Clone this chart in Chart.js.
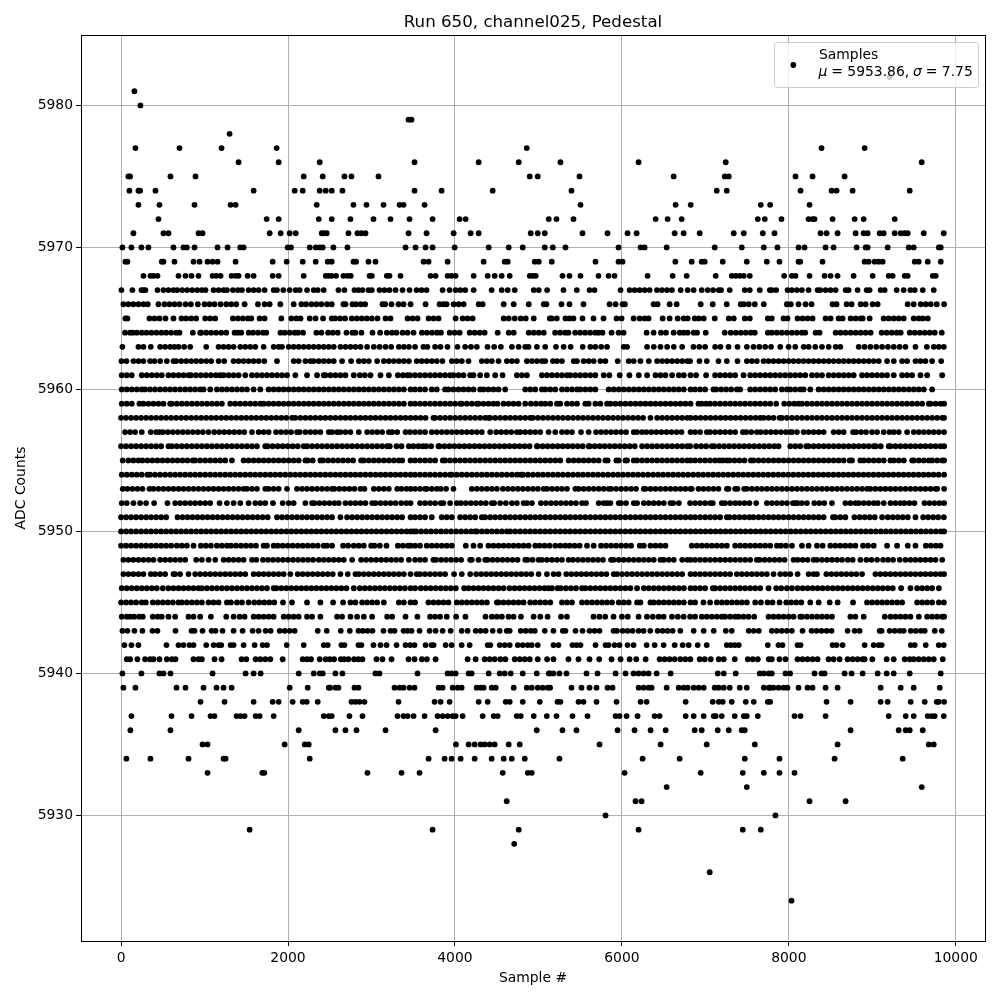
<!DOCTYPE html>
<html>
<head>
<meta charset="utf-8">
<title>Run 650, channel025, Pedestal</title>
<script src="https://cdn.jsdelivr.net/npm/chart.js@4"></script>
<style>
  html, body { margin: 0; padding: 0; background: #fff; }
  #wrap { width: 1000px; height: 1000px; }
</style>
</head>
<body>
<div id="wrap"><canvas id="chart" width="1000" height="1000"></canvas></div>
<script>
const xTicks = [0, 2000, 4000, 6000, 8000, 10000];
const yTicks = [5930, 5940, 5950, 5960, 5970, 5980];

// sample numbers, one list per ADC level
const s5982 = [9208];
const s5981 = [160];
const s5980 = [232];
const s5979 = [3444, 3480];
const s5978 = [1300];
const s5977 = [172, 700, 1204, 1864, 4860, 8392, 8908];
const s5976 = [1408, 1888, 2380, 3516, 4284, 4764, 5264, 6200, 7244, 9592];
const s5975 = [88, 108, 592, 892, 2188, 2416, 2676, 2760, 3084, 4896, 4992, 5492, 6620, 7232, 7280, 8080, 8284, 8668];
const s5974 = [100, 208, 228, 412, 1588, 2080, 2176, 2380, 2452, 2524, 2652, 3516, 3840, 4452, 5396, 7136, 7256, 8140, 8512, 8572, 8764, 9448];
const s5973 = [208, 460, 880, 1312, 1372, 2344, 2784, 2940, 3144, 3336, 3384, 3636, 5504, 6644, 6824, 7664, 7776, 8248];
const s5972 = [448, 1744, 1888, 2368, 2524, 2748, 3024, 3228, 3456, 3732, 4056, 4128, 5124, 5216, 5420, 6404, 6548, 6716, 7628, 7712, 7912, 8236, 8284, 8308, 8524, 8788, 8896, 9268];
const s5971 = [148, 508, 568, 928, 976, 1780, 1912, 2020, 2092, 2404, 2428, 2464, 2724, 2832, 2880, 2928, 3444, 3660, 3984, 4188, 4284, 4908, 4992, 5076, 5528, 5828, 6068, 6176, 6632, 6740, 6932, 7340, 7460, 7688, 7828, 8380, 8452, 8584, 8800, 8896, 8944, 9088, 9136, 9268, 9340, 9388, 9424, 9616, 9856];
const s5970 = [16, 124, 244, 328, 628, 748, 788, 880, 1156, 1276, 1428, 1468, 1996, 2036, 2260, 2332, 2380, 2416, 2544, 2712, 3408, 3528, 3648, 3732, 3996, 4404, 4644, 4812, 5076, 5172, 5324, 5960, 6224, 6272, 6536, 7112, 7436, 7700, 7864, 8116, 8188, 8440, 8536, 8812, 8920, 8944, 9184, 9436, 9496, 9796, 9820];
const s5969 = [52, 76, 488, 508, 640, 868, 940, 1036, 1096, 1156, 1372, 1816, 1984, 2176, 2332, 2476, 2524, 2784, 2816, 2964, 3048, 3624, 3684, 3912, 4344, 4596, 4632, 4956, 5004, 5160, 5684, 5960, 6008, 6640, 6836, 6956, 6992, 7208, 7496, 7736, 7888, 8116, 8136, 8404, 8908, 8956, 9028, 9076, 9124, 9508, 9556, 9664, 9820];
const s5968 = [268, 352, 388, 436, 688, 772, 844, 928, 1096, 1140, 1192, 1324, 1372, 1408, 1516, 1588, 1816, 1888, 2188, 2452, 2488, 2524, 2576, 2664, 2712, 2752, 2976, 3004, 3184, 3216, 3348, 3708, 3768, 3912, 3960, 4008, 4224, 4392, 4476, 4560, 4656, 4896, 4932, 4968, 5288, 5372, 5504, 5720, 5840, 5912, 6308, 6608, 6776, 7124, 7316, 7364, 7412, 7460, 7532, 7944, 8036, 8080, 8248, 8428, 8500, 8584, 8776, 9004, 9196, 9244, 9388, 9424, 9724, 9760];
const s5967 = [4, 136, 244, 268, 292, 436, 508, 568, 628, 672, 732, 792, 852, 912, 968, 1012, 1108, 1168, 1228, 1268, 1340, 1400, 1448, 1528, 1588, 1648, 1720, 1828, 1868, 1944, 2020, 2092, 2140, 2228, 2308, 2356, 2428, 2604, 2676, 2796, 2844, 2892, 2964, 3004, 3096, 3156, 3216, 3288, 3372, 3456, 3540, 3600, 3660, 3852, 3936, 4008, 4064, 4124, 4224, 4440, 4560, 4632, 4716, 4944, 5004, 5104, 5300, 5460, 5612, 5672, 5984, 6092, 6152, 6212, 6272, 6332, 6420, 6480, 6540, 6600, 6704, 6788, 6860, 6956, 7028, 7092, 7160, 7188, 7292, 7472, 7532, 7652, 7772, 7796, 7848, 7984, 8036, 8096, 8156, 8236, 8344, 8376, 8440, 8500, 8560, 8680, 8716, 8824, 8932, 8968, 9100, 9148, 9292, 9376, 9456, 9508, 9604, 9736];
const s5966 = [28, 88, 148, 208, 268, 320, 448, 520, 580, 640, 700, 772, 836, 920, 1000, 1060, 1120, 1192, 1260, 1320, 1380, 1480, 1640, 1720, 1780, 1908, 2068, 2160, 2216, 2280, 2340, 2400, 2468, 2524, 2664, 2688, 2772, 2816, 2872, 2924, 3132, 3164, 3240, 3324, 3384, 3468, 3648, 3816, 3864, 3900, 3984, 4044, 4104, 4284, 4332, 4584, 4704, 4884, 5064, 5096, 5276, 5372, 5540, 5852, 5924, 6008, 6036, 6380, 6428, 6572, 6656, 6944, 7088, 7256, 7424, 7460, 7520, 7592, 7700, 7976, 8024, 8116, 8200, 8272, 8524, 8572, 8692, 8752, 8860, 8920, 9004, 9064, 9424, 9496, 9580, 9640, 9700, 9772, 9860];
const s5965 = [52, 76, 340, 400, 460, 532, 628, 724, 780, 840, 900, 1008, 1068, 1128, 1340, 1400, 1460, 1520, 1560, 1660, 1720, 1920, 2040, 2100, 2150, 2260, 2330, 2420, 2524, 2564, 2624, 2684, 2764, 2824, 2884, 2944, 3004, 3072, 3168, 3228, 3432, 3492, 3552, 3684, 3744, 3804, 4008, 4092, 4152, 4212, 4584, 4644, 4716, 4788, 4848, 4944, 5136, 5160, 5220, 5324, 5372, 5420, 5528, 5660, 5780, 5936, 5996, 6140, 6212, 6272, 6320, 6488, 6572, 6668, 6740, 6788, 6872, 6920, 6980, 7112, 7280, 7340, 7472, 7532, 7748, 7796, 7936, 7984, 8104, 8164, 8224, 8284, 8440, 8500, 8596, 8644, 8740, 8800, 8860, 8884, 8968, 9136, 9196, 9256, 9316, 9376, 9496, 9556, 9604, 9664];
const s5964 = [48, 108, 140, 188, 248, 304, 364, 424, 484, 540, 600, 660, 700, 860, 948, 960, 1020, 1080, 1140, 1200, 1260, 1360, 1400, 1440, 1528, 1580, 1640, 1700, 1740, 1910, 1960, 2020, 2080, 2120, 2180, 2340, 2400, 2480, 2536, 2596, 2700, 2772, 2808, 2880, 3012, 3104, 3184, 3244, 3300, 3372, 3432, 3504, 3604, 3664, 3724, 3784, 3832, 3936, 3996, 4056, 4176, 4236, 4296, 4356, 4512, 4644, 4704, 4884, 4944, 5004, 5064, 5200, 5260, 5320, 5360, 5440, 5500, 5560, 5620, 5680, 5720, 5768, 5876, 5960, 6020, 6296, 6380, 6468, 6528, 6620, 6692, 6740, 6788, 6860, 6900, 7004, 7232, 7304, 7364, 7424, 7484, 7544, 7592, 7748, 7796, 7856, 7916, 7976, 8036, 8096, 8156, 8196, 8320, 8368, 8560, 8620, 8680, 8740, 8800, 8860, 8920, 8980, 9112, 9172, 9232, 9292, 9340, 9448, 9508, 9568, 9628, 9688, 9748, 9832];
const s5963 = [16, 208, 268, 356, 468, 528, 588, 640, 688, 756, 828, 1020, 1168, 1228, 1288, 1348, 1428, 1488, 1548, 1608, 1708, 1828, 1888, 1928, 2008, 2068, 2128, 2188, 2248, 2308, 2368, 2428, 2488, 2548, 2628, 2688, 2748, 2808, 2868, 2948, 3028, 3098, 3168, 3236, 3328, 3388, 3448, 3522, 3622, 3670, 3762, 3826, 3910, 4030, 4122, 4192, 4262, 4390, 4470, 4550, 4682, 4762, 4842, 4882, 4982, 5082, 5210, 5302, 5386, 5530, 5622, 5682, 5752, 5822, 6022, 6062, 6302, 6382, 6462, 6542, 6622, 6722, 6857, 6927, 6997, 7117, 7181, 7277, 7385, 7497, 7577, 7647, 7717, 7787, 7897, 7997, 8077, 8177, 8237, 8317, 8397, 8477, 8561, 8617, 8837, 8907, 8977, 9047, 9117, 9187, 9257, 9327, 9397, 9517, 9653, 9737, 9797, 9857];
const s5962 = [4, 64, 148, 208, 268, 348, 400, 468, 548, 628, 660, 720, 780, 840, 900, 960, 1020, 1080, 1168, 1236, 1348, 1408, 1468, 1528, 1588, 1648, 1716, 1868, 2068, 2128, 2208, 2268, 2308, 2368, 2428, 2488, 2548, 2648, 2756, 2848, 2908, 2968, 3068, 3148, 3208, 3268, 3328, 3388, 3448, 3542, 3602, 3662, 3722, 3782, 3850, 3962, 4022, 4082, 4162, 4322, 4382, 4442, 4522, 4622, 4682, 4742, 4862, 4922, 4982, 5042, 5082, 5174, 5222, 5282, 5422, 5462, 5542, 5602, 5662, 5742, 5802, 5950, 6082, 6142, 6222, 6322, 6422, 6482, 6542, 6602, 6662, 6722, 6782, 6817, 6929, 7017, 7157, 7257, 7385, 7497, 7557, 7617, 7697, 7757, 7817, 7877, 7937, 7997, 8057, 8117, 8177, 8237, 8297, 8357, 8417, 8477, 8537, 8597, 8657, 8717, 8777, 8837, 8897, 8957, 9017, 9077, 9177, 9257, 9357, 9417, 9517, 9577, 9637, 9717, 9825];
const s5961 = [8, 68, 128, 248, 308, 368, 428, 488, 568, 628, 688, 748, 808, 836, 896, 956, 1016, 1076, 1136, 1188, 1228, 1288, 1348, 1408, 1488, 1568, 1628, 1688, 1748, 1808, 1868, 1928, 1988, 2088, 2228, 2348, 2428, 2448, 2508, 2568, 2628, 2688, 2788, 2860, 2920, 2988, 3108, 3208, 3316, 3376, 3428, 3462, 3522, 3582, 3642, 3702, 3762, 3822, 3882, 3942, 3982, 4042, 4102, 4182, 4222, 4302, 4382, 4482, 4570, 4742, 4802, 4862, 5042, 5102, 5162, 5222, 5282, 5342, 5382, 5442, 5502, 5562, 5622, 5682, 5782, 5850, 5974, 6090, 6202, 6302, 6402, 6462, 6522, 6602, 6682, 6742, 6822, 6889, 7009, 7117, 7177, 7237, 7297, 7357, 7457, 7537, 7597, 7657, 7717, 7777, 7837, 7897, 7957, 8017, 8077, 8137, 8197, 8277, 8337, 8397, 8477, 8537, 8597, 8657, 8717, 8777, 8877, 8937, 8997, 9057, 9117, 9177, 9257, 9357, 9417, 9477, 9577, 9657, 9837];
const s5960 = [8, 68, 128, 188, 248, 288, 348, 408, 468, 528, 588, 648, 708, 768, 828, 888, 948, 988, 1068, 1148, 1208, 1268, 1328, 1388, 1448, 1508, 1588, 1668, 1768, 1828, 1888, 1948, 2008, 2068, 2128, 2188, 2248, 2308, 2368, 2428, 2488, 2548, 2608, 2668, 2728, 2788, 2848, 2908, 2968, 3028, 3088, 3148, 3208, 3268, 3328, 3388, 3468, 3522, 3582, 3642, 3722, 3782, 3882, 3922, 3982, 4042, 4102, 4162, 4222, 4302, 4342, 4402, 4462, 4522, 4602, 4842, 4902, 4962, 5042, 5082, 5142, 5202, 5282, 5342, 5402, 5462, 5502, 5562, 5622, 5682, 5842, 5902, 5962, 6022, 6082, 6142, 6202, 6262, 6322, 6382, 6442, 6502, 6562, 6622, 6682, 6742, 6822, 6877, 6937, 6997, 7097, 7129, 7189, 7249, 7309, 7377, 7417, 7537, 7597, 7657, 7717, 7777, 7837, 7917, 7977, 8017, 8077, 8137, 8177, 8257, 8357, 8417, 8477, 8537, 8597, 8657, 8717, 8777, 8837, 8897, 8957, 9017, 9077, 9137, 9197, 9257, 9317, 9377, 9437, 9497, 9557, 9617, 9717];
const s5959 = [8, 68, 128, 220, 268, 328, 388, 448, 508, 588, 608, 668, 728, 788, 848, 908, 968, 1028, 1088, 1148, 1208, 1308, 1368, 1428, 1488, 1548, 1608, 1668, 1708, 1768, 1828, 1888, 1948, 2008, 2068, 2128, 2188, 2248, 2308, 2368, 2428, 2488, 2548, 2608, 2668, 2728, 2788, 2848, 2908, 2968, 3028, 3088, 3148, 3208, 3268, 3328, 3388, 3468, 3522, 3582, 3642, 3702, 3762, 3822, 3882, 3942, 4002, 4062, 4082, 4142, 4202, 4262, 4282, 4342, 4402, 4462, 4510, 4582, 4642, 4702, 4762, 4842, 4910, 4970, 5030, 5082, 5142, 5222, 5262, 5342, 5402, 5462, 5562, 5602, 5682, 5742, 5822, 5862, 5922, 5982, 6042, 6102, 6162, 6222, 6282, 6342, 6402, 6462, 6522, 6582, 6642, 6702, 6762, 6822, 6917, 6957, 7009, 7057, 7117, 7177, 7237, 7297, 7357, 7417, 7477, 7537, 7597, 7657, 7717, 7777, 7849, 7945, 8005, 8065, 8117, 8157, 8217, 8277, 8337, 8397, 8457, 8517, 8577, 8637, 8697, 8757, 8817, 8877, 8937, 8997, 9057, 9117, 9177, 9237, 9297, 9357, 9417, 9477, 9537, 9597, 9677, 9697, 9757, 9817, 9860];
const s5958 = [0, 60, 120, 180, 240, 300, 360, 420, 480, 540, 600, 660, 720, 780, 840, 900, 960, 1020, 1080, 1140, 1200, 1260, 1320, 1380, 1440, 1500, 1560, 1620, 1680, 1740, 1800, 1860, 1920, 1980, 2048, 2088, 2148, 2208, 2268, 2328, 2388, 2448, 2508, 2568, 2628, 2688, 2748, 2808, 2868, 2928, 2988, 3048, 3108, 3168, 3228, 3288, 3348, 3408, 3468, 3528, 3588, 3648, 3742, 3762, 3822, 3882, 3942, 4002, 4062, 4122, 4182, 4242, 4302, 4362, 4402, 4422, 4482, 4542, 4602, 4662, 4722, 4782, 4842, 4902, 4934, 4994, 5054, 5114, 5174, 5234, 5294, 5354, 5414, 5474, 5534, 5594, 5654, 5714, 5774, 5834, 5894, 5954, 6014, 6074, 6134, 6194, 6254, 6342, 6422, 6482, 6542, 6602, 6662, 6722, 6782, 6822, 6882, 6942, 7002, 7062, 7122, 7182, 7242, 7302, 7362, 7422, 7482, 7542, 7602, 7657, 7697, 7757, 7817, 7889, 7917, 7977, 8037, 8097, 8157, 8217, 8277, 8337, 8397, 8457, 8517, 8577, 8637, 8697, 8757, 8817, 8877, 8937, 8997, 9057, 9117, 9177, 9237, 9297, 9357, 9417, 9477, 9537, 9597, 9657, 9717, 9777, 9837, 9860];
const s5957 = [48, 108, 168, 248, 356, 420, 460, 500, 560, 620, 680, 740, 800, 860, 920, 980, 1048, 1116, 1176, 1236, 1296, 1356, 1416, 1476, 1568, 1648, 1708, 1768, 1856, 1916, 1976, 2036, 2108, 2140, 2208, 2268, 2328, 2388, 2488, 2528, 2588, 2628, 2688, 2748, 2848, 2948, 3008, 3068, 3128, 3208, 3248, 3308, 3408, 3462, 3522, 3582, 3642, 3722, 3782, 3842, 3902, 3962, 4022, 4082, 4142, 4202, 4262, 4322, 4422, 4494, 4554, 4614, 4674, 4742, 4782, 4842, 4902, 4962, 5022, 5122, 5202, 5282, 5342, 5402, 5510, 5602, 5690, 5750, 5810, 5870, 5930, 5990, 6050, 6142, 6182, 6242, 6294, 6354, 6414, 6474, 6534, 6594, 6654, 6714, 6822, 6877, 6937, 7017, 7057, 7117, 7177, 7237, 7297, 7357, 7449, 7489, 7549, 7617, 7665, 7725, 7785, 7845, 7905, 7965, 8017, 8037, 8097, 8177, 8237, 8297, 8357, 8417, 8537, 8597, 8657, 8769, 8805, 8865, 8925, 8997, 9057, 9137, 9205, 9257, 9317, 9417, 9497, 9557, 9617, 9677, 9737, 9797, 9860];
const s5956 = [0, 60, 120, 180, 240, 300, 360, 420, 480, 568, 608, 668, 728, 788, 848, 908, 968, 1028, 1088, 1148, 1208, 1268, 1328, 1388, 1448, 1508, 1568, 1628, 1728, 1756, 1816, 1876, 1936, 1996, 2056, 2116, 2188, 2228, 2288, 2348, 2408, 2468, 2528, 2588, 2648, 2708, 2768, 2828, 2888, 2948, 3008, 3068, 3128, 3188, 3220, 3300, 3360, 3448, 3502, 3562, 3614, 3654, 3714, 3802, 3814, 3874, 3934, 3994, 4054, 4114, 4174, 4234, 4294, 4354, 4414, 4474, 4534, 4594, 4654, 4714, 4774, 4834, 4894, 4982, 4990, 5050, 5110, 5170, 5230, 5290, 5350, 5410, 5470, 5530, 5602, 5614, 5674, 5734, 5794, 5854, 5914, 5974, 6034, 6094, 6154, 6242, 6302, 6362, 6422, 6482, 6542, 6602, 6662, 6722, 6782, 6817, 6889, 6949, 7009, 7077, 7105, 7165, 7225, 7285, 7345, 7405, 7465, 7525, 7585, 7645, 7705, 7765, 7825, 7877, 8017, 8077, 8137, 8209, 8237, 8297, 8357, 8417, 8477, 8537, 8597, 8657, 8717, 8777, 8837, 8897, 8957, 9017, 9041, 9101, 9197, 9217, 9277, 9337, 9397, 9457, 9517, 9577, 9637, 9697, 9757, 9817, 9860];
const s5955 = [20, 88, 148, 208, 256, 316, 376, 436, 496, 556, 616, 676, 736, 796, 860, 888, 948, 1008, 1068, 1128, 1188, 1248, 1328, 1468, 1528, 1588, 1648, 1708, 1768, 1828, 1888, 1948, 2008, 2068, 2128, 2208, 2236, 2296, 2388, 2420, 2480, 2540, 2600, 2660, 2720, 2780, 2876, 2908, 2968, 3028, 3088, 3148, 3208, 3268, 3328, 3368, 3468, 3522, 3582, 3642, 3702, 3762, 3854, 3882, 3942, 4002, 4062, 4122, 4182, 4242, 4302, 4362, 4422, 4482, 4542, 4602, 4662, 4722, 4782, 4842, 4902, 4962, 5022, 5082, 5142, 5202, 5262, 5362, 5422, 5482, 5542, 5602, 5662, 5722, 5802, 5830, 5934, 5962, 6042, 6062, 6142, 6182, 6242, 6302, 6362, 6422, 6482, 6542, 6602, 6662, 6722, 6782, 6822, 6877, 6937, 6997, 7057, 7117, 7169, 7209, 7257, 7289, 7349, 7409, 7469, 7545, 7577, 7637, 7697, 7757, 7817, 7877, 7937, 7997, 8057, 8117, 8177, 8237, 8297, 8357, 8417, 8477, 8537, 8597, 8657, 8729, 8757, 8857, 8897, 8957, 9017, 9077, 9137, 9217, 9257, 9317, 9377, 9477, 9497, 9557, 9617, 9677, 9717, 9777, 9837, 9860];
const s5954 = [8, 68, 128, 188, 248, 316, 348, 408, 468, 528, 588, 648, 708, 768, 828, 888, 948, 1008, 1068, 1128, 1188, 1248, 1308, 1368, 1428, 1488, 1548, 1608, 1668, 1728, 1788, 1848, 1908, 1968, 2028, 2088, 2148, 2208, 2268, 2328, 2388, 2448, 2508, 2568, 2628, 2688, 2748, 2808, 2868, 2928, 2988, 3048, 3108, 3168, 3228, 3288, 3348, 3408, 3468, 3522, 3582, 3642, 3702, 3762, 3822, 3882, 3942, 3962, 4022, 4082, 4142, 4202, 4262, 4322, 4382, 4442, 4502, 4562, 4622, 4682, 4742, 4790, 4814, 4874, 4934, 4994, 5054, 5114, 5174, 5234, 5294, 5354, 5414, 5474, 5534, 5594, 5654, 5714, 5774, 5834, 5894, 5954, 6014, 6074, 6134, 6194, 6254, 6314, 6374, 6434, 6494, 6554, 6614, 6674, 6734, 6794, 6854, 6914, 6974, 7034, 7094, 7154, 7214, 7274, 7334, 7394, 7454, 7514, 7574, 7634, 7694, 7754, 7814, 7874, 7934, 7994, 8054, 8114, 8174, 8234, 8294, 8354, 8414, 8474, 8534, 8594, 8654, 8714, 8774, 8834, 8894, 8954, 9014, 9074, 9134, 9194, 9254, 9314, 9374, 9434, 9494, 9554, 9614, 9674, 9734, 9794, 9860];
const s5953 = [20, 76, 136, 196, 256, 340, 388, 448, 508, 568, 628, 688, 748, 808, 868, 928, 988, 1048, 1108, 1168, 1228, 1288, 1348, 1408, 1468, 1508, 1568, 1628, 1728, 1768, 1828, 1888, 1988, 2108, 2168, 2228, 2288, 2348, 2408, 2468, 2528, 2556, 2616, 2676, 2736, 2796, 2868, 2916, 3028, 3088, 3148, 3208, 3308, 3360, 3420, 3468, 3522, 3582, 3642, 3662, 3722, 3782, 3830, 3894, 3982, 4202, 4262, 4322, 4382, 4442, 4502, 4574, 4634, 4694, 4754, 4814, 4874, 4934, 4994, 5062, 5102, 5162, 5222, 5282, 5342, 5442, 5482, 5542, 5602, 5662, 5722, 5782, 5842, 5870, 5930, 5990, 6050, 6110, 6170, 6262, 6282, 6342, 6402, 6462, 6522, 6582, 6642, 6702, 6762, 6822, 6837, 6917, 6977, 7037, 7097, 7157, 7257, 7277, 7357, 7385, 7465, 7497, 7557, 7617, 7677, 7737, 7797, 7857, 7917, 7977, 8037, 8097, 8157, 8217, 8277, 8337, 8397, 8457, 8517, 8577, 8637, 8697, 8757, 8817, 8877, 8937, 8977, 9037, 9097, 9157, 9217, 9277, 9337, 9397, 9457, 9517, 9577, 9637, 9697, 9757, 9777, 9860];
const s5952 = [8, 68, 148, 228, 300, 396, 556, 648, 708, 768, 828, 888, 948, 1008, 1068, 1180, 1268, 1348, 1428, 1528, 1608, 1668, 1728, 1820, 1936, 2008, 2068, 2208, 2288, 2316, 2376, 2436, 2496, 2556, 2608, 2688, 2748, 2808, 2868, 2928, 3008, 3048, 3108, 3168, 3228, 3288, 3356, 3416, 3468, 3582, 3642, 3702, 3762, 3830, 3862, 3942, 4022, 4070, 4130, 4190, 4250, 4310, 4370, 4442, 4470, 4542, 4610, 4682, 4742, 4822, 4862, 4922, 5030, 5090, 5150, 5210, 5270, 5330, 5390, 5450, 5522, 5570, 5722, 5782, 5822, 5862, 5962, 5990, 6050, 6142, 6182, 6262, 6322, 6382, 6442, 6502, 6582, 6614, 6682, 6817, 6877, 6937, 6997, 7057, 7089, 7197, 7237, 7297, 7357, 7409, 7469, 7529, 7609, 7737, 7797, 7857, 7917, 7977, 8049, 8077, 8105, 8157, 8217, 8305, 8365, 8425, 8517, 8677, 8737, 8797, 8837, 8897, 8957, 9017, 9065, 9137, 9217, 9277, 9337, 9385, 9445, 9505, 9625, 9685, 9745, 9805, 9860];
const s5951 = [0, 60, 120, 180, 240, 300, 360, 420, 480, 540, 676, 736, 796, 856, 916, 976, 1036, 1096, 1156, 1216, 1276, 1336, 1396, 1456, 1516, 1576, 1636, 1696, 1756, 1868, 1928, 1988, 2048, 2108, 2168, 2228, 2288, 2348, 2408, 2468, 2528, 2628, 2708, 2768, 2828, 2888, 2948, 3008, 3068, 3128, 3188, 3248, 3308, 3368, 3468, 3522, 3582, 3642, 3722, 3842, 3902, 3962, 4062, 4122, 4182, 4242, 4322, 4362, 4422, 4482, 4542, 4602, 4662, 4722, 4782, 4842, 4902, 4962, 5022, 5082, 5142, 5202, 5262, 5322, 5382, 5442, 5502, 5562, 5622, 5682, 5742, 5802, 5862, 5922, 5982, 6042, 6102, 6162, 6222, 6282, 6342, 6402, 6462, 6522, 6582, 6642, 6702, 6762, 6822, 6877, 6937, 6997, 7057, 7117, 7177, 7257, 7289, 7349, 7409, 7469, 7529, 7577, 7637, 7697, 7757, 7817, 7877, 7937, 7997, 8057, 8117, 8177, 8237, 8297, 8357, 8417, 8529, 8557, 8617, 8677, 8785, 8849, 8909, 8969, 9029, 9117, 9185, 9245, 9305, 9365, 9425, 9517, 9609, 9669, 9729, 9789, 9857];
const s5950 = [0, 60, 120, 180, 240, 300, 360, 420, 480, 540, 600, 660, 720, 780, 840, 900, 960, 1020, 1080, 1140, 1200, 1260, 1320, 1380, 1440, 1500, 1560, 1620, 1680, 1740, 1800, 1860, 1920, 1980, 2040, 2100, 2160, 2220, 2280, 2340, 2400, 2460, 2520, 2580, 2640, 2700, 2760, 2820, 2880, 2940, 3000, 3060, 3120, 3180, 3240, 3300, 3360, 3420, 3468, 3502, 3534, 3594, 3654, 3714, 3774, 3834, 3894, 3954, 4014, 4074, 4134, 4194, 4242, 4262, 4322, 4382, 4442, 4502, 4562, 4622, 4662, 4722, 4782, 4842, 4902, 4962, 5022, 5082, 5142, 5202, 5262, 5322, 5382, 5442, 5502, 5562, 5622, 5682, 5742, 5802, 5862, 5922, 5982, 6042, 6102, 6162, 6222, 6282, 6342, 6402, 6462, 6522, 6582, 6642, 6702, 6762, 6822, 6882, 6942, 7002, 7062, 7122, 7182, 7242, 7302, 7362, 7422, 7482, 7542, 7602, 7662, 7722, 7782, 7842, 7902, 7962, 8022, 8082, 8142, 8202, 8262, 8322, 8382, 8442, 8502, 8562, 8622, 8682, 8742, 8802, 8862, 8922, 8982, 9042, 9102, 9162, 9222, 9282, 9342, 9402, 9462, 9522, 9582, 9642, 9702, 9762, 9822, 9860];
const s5949 = [0, 60, 120, 180, 240, 300, 360, 420, 480, 540, 600, 668, 728, 788, 868, 956, 1016, 1076, 1148, 1208, 1268, 1316, 1376, 1436, 1496, 1556, 1616, 1708, 1748, 1828, 1876, 1936, 1996, 2056, 2116, 2176, 2236, 2296, 2356, 2428, 2468, 2528, 2660, 2720, 2788, 2848, 2908, 2996, 3036, 3100, 3180, 3316, 3376, 3436, 3468, 3522, 3582, 3662, 3722, 3782, 3842, 3902, 3962, 4130, 4222, 4302, 4402, 4462, 4522, 4582, 4642, 4702, 4762, 4822, 4882, 4962, 5014, 5074, 5134, 5202, 5262, 5322, 5374, 5434, 5494, 5582, 5662, 5750, 5810, 5870, 5930, 5990, 6050, 6110, 6214, 6262, 6342, 6402, 6462, 6522, 6837, 6897, 6957, 7017, 7077, 7137, 7197, 7257, 7357, 7417, 7477, 7537, 7597, 7657, 7717, 7777, 7857, 7905, 7965, 8037, 8157, 8237, 8337, 8405, 8497, 8557, 8617, 8677, 8737, 8797, 8889, 8949, 9017, 9177, 9297, 9425, 9517, 9641, 9701, 9761, 9817];
const s5948 = [28, 88, 148, 208, 268, 328, 388, 468, 528, 588, 648, 708, 768, 900, 968, 1048, 1128, 1228, 1288, 1348, 1408, 1468, 1568, 1620, 1700, 1760, 1820, 1880, 1940, 2000, 2060, 2120, 2180, 2240, 2300, 2368, 2428, 2488, 2548, 2608, 2668, 2768, 2876, 2936, 2996, 3056, 3116, 3176, 3236, 3296, 3356, 3448, 3522, 3582, 3642, 3742, 3774, 3834, 3894, 3954, 4014, 4074, 4182, 4202, 4282, 4362, 4390, 4450, 4510, 4570, 4630, 4690, 4750, 4842, 4870, 4930, 5002, 5042, 5102, 5162, 5222, 5282, 5362, 5414, 5474, 5534, 5594, 5654, 5714, 5774, 5870, 5902, 5962, 6022, 6082, 6142, 6202, 6262, 6322, 6382, 6462, 6502, 6562, 6622, 6722, 6782, 6822, 6877, 6937, 6997, 7057, 7117, 7177, 7237, 7297, 7357, 7417, 7477, 7537, 7617, 7649, 7709, 7769, 7829, 7889, 7949, 8057, 8105, 8165, 8225, 8297, 8337, 8397, 8457, 8517, 8577, 8637, 8705, 8765, 8857, 8929, 8989, 9057, 9129, 9189, 9249, 9329, 9397, 9457, 9517, 9577, 9637, 9697, 9757, 9837];
const s5947 = [28, 88, 148, 208, 268, 356, 408, 468, 528, 628, 648, 708, 808, 888, 948, 1008, 1068, 1128, 1188, 1248, 1308, 1368, 1428, 1488, 1588, 1648, 1708, 1768, 1828, 1888, 1948, 2028, 2116, 2176, 2236, 2296, 2356, 2416, 2476, 2536, 2628, 2716, 2808, 2848, 2908, 2968, 3028, 3088, 3148, 3208, 3268, 3328, 3388, 3468, 3542, 3582, 3642, 3702, 3762, 3822, 3882, 3990, 4082, 4182, 4254, 4314, 4374, 4434, 4494, 4554, 4614, 4674, 4734, 4794, 4854, 4914, 5002, 5102, 5182, 5242, 5334, 5394, 5454, 5514, 5574, 5634, 5694, 5754, 5814, 5902, 5942, 6002, 6062, 6122, 6182, 6242, 6302, 6362, 6422, 6482, 6542, 6602, 6662, 6722, 6822, 6877, 6937, 6997, 7057, 7117, 7177, 7237, 7297, 7377, 7437, 7497, 7557, 7617, 7677, 7737, 7817, 7897, 7957, 8017, 8105, 8237, 8297, 8337, 8449, 8509, 8569, 8629, 8689, 8749, 8809, 8877, 9037, 9097, 9157, 9217, 9277, 9337, 9397, 9457, 9517, 9577, 9637, 9697, 9757, 9817, 9860];
const s5946 = [8, 68, 128, 188, 248, 308, 368, 428, 500, 568, 628, 688, 748, 808, 868, 928, 968, 1028, 1088, 1148, 1208, 1268, 1328, 1388, 1448, 1508, 1568, 1628, 1688, 1748, 1828, 1860, 1920, 1980, 2040, 2100, 2160, 2220, 2280, 2340, 2400, 2460, 2520, 2580, 2640, 2700, 2788, 2860, 2920, 2980, 3040, 3100, 3160, 3220, 3280, 3340, 3400, 3468, 3522, 3590, 3650, 3710, 3770, 3830, 3890, 3950, 4010, 4110, 4162, 4222, 4282, 4342, 4402, 4462, 4522, 4582, 4654, 4714, 4774, 4834, 4894, 4954, 5014, 5074, 5122, 5162, 5230, 5270, 5330, 5390, 5450, 5522, 5562, 5622, 5682, 5742, 5802, 5862, 5922, 5982, 6042, 6102, 6182, 6262, 6322, 6382, 6442, 6502, 6562, 6622, 6682, 6742, 6822, 6877, 6937, 6997, 7089, 7117, 7177, 7237, 7297, 7357, 7417, 7477, 7537, 7597, 7657, 7757, 7849, 7909, 7977, 8037, 8105, 8165, 8225, 8285, 8345, 8405, 8465, 8525, 8585, 8645, 8705, 8765, 8825, 8885, 8945, 9005, 9065, 9125, 9185, 9245, 9345, 9457, 9537, 9597, 9657, 9717, 9797];
const s5945 = [0, 60, 120, 180, 248, 296, 380, 440, 500, 560, 620, 688, 728, 788, 848, 908, 968, 1048, 1108, 1168, 1268, 1316, 1388, 1448, 1528, 1596, 1656, 1716, 1776, 1836, 1940, 2048, 2228, 2388, 2540, 2660, 2748, 2808, 2888, 2948, 3008, 3068, 3148, 3328, 3388, 3468, 3522, 3682, 3742, 3802, 3862, 3922, 4022, 4082, 4142, 4202, 4262, 4322, 4382, 4502, 4522, 4582, 4642, 4702, 4762, 4822, 4902, 4962, 5022, 5082, 5142, 5282, 5342, 5402, 5522, 5582, 5642, 5702, 5762, 5822, 5882, 5962, 6022, 6082, 6182, 6222, 6342, 6382, 6442, 6502, 6562, 6622, 6682, 6742, 6822, 6877, 6977, 7057, 7137, 7197, 7257, 7317, 7377, 7437, 7497, 7597, 7665, 7745, 7805, 7889, 7969, 8029, 8089, 8149, 8257, 8357, 8489, 8585, 8769, 8937, 8997, 9057, 9117, 9177, 9237, 9297, 9357, 9537, 9597, 9657, 9717, 9797, 9857];
const s5944 = [8, 68, 108, 156, 216, 260, 380, 440, 488, 568, 648, 808, 868, 948, 1076, 1260, 1348, 1420, 1480, 1588, 1648, 1708, 1768, 1828, 1948, 2008, 2068, 2128, 2228, 2288, 2388, 2588, 2648, 2748, 2828, 2908, 3008, 3188, 3248, 3408, 3550, 3702, 3762, 3822, 3902, 4014, 4126, 4366, 4442, 4502, 4562, 4642, 4702, 4790, 4942, 5022, 5110, 5270, 5342, 5660, 5730, 5800, 5900, 6000, 6070, 6200, 6300, 6370, 6440, 6500, 6600, 6670, 6740, 6817, 6877, 6957, 7017, 7077, 7137, 7197, 7237, 7297, 7357, 7397, 7457, 7517, 7585, 7757, 7817, 7877, 7937, 7997, 8057, 8137, 8157, 8217, 8277, 8337, 8397, 8457, 8517, 8737, 8797, 8897, 9149, 9217, 9277, 9337, 9397, 9457, 9557, 9657, 9717, 9777, 9837, 9860];
const s5943 = [16, 76, 160, 256, 376, 436, 652, 844, 880, 976, 1084, 1132, 1216, 1348, 1456, 1576, 1648, 1732, 1792, 1900, 1960, 2020, 2080, 2356, 2464, 2632, 2740, 2844, 2896, 2952, 3012, 3144, 3228, 3276, 3384, 3432, 3480, 3576, 3696, 3768, 3852, 3948, 4080, 4152, 4248, 4308, 4368, 4452, 4536, 4620, 4656, 4788, 4848, 4908, 4956, 5076, 5180, 5292, 5324, 5444, 5528, 5612, 5672, 5732, 5900, 5940, 6008, 6068, 6128, 6200, 6260, 6340, 6428, 6488, 6548, 6608, 6700, 6860, 6980, 7100, 7244, 7316, 7520, 7580, 7640, 7796, 7856, 7916, 7976, 8036, 8164, 8272, 8332, 8392, 8452, 8512, 8704, 8788, 8848, 9088, 9112, 9208, 9268, 9328, 9376, 9460, 9520, 9580, 9628, 9748, 9832];
const s5942 = [40, 124, 208, 544, 688, 748, 820, 868, 1020, 1108, 1168, 1200, 1312, 1348, 1468, 1600, 1696, 1748, 1984, 2188, 2428, 2476, 2640, 2676, 2844, 2880, 3024, 3108, 3180, 3300, 3408, 3464, 3516, 3648, 3720, 3744, 3888, 3960, 4080, 4176, 4392, 4424, 4536, 4596, 4656, 4752, 4812, 4872, 4920, 4992, 5180, 5240, 5408, 5456, 5504, 5684, 5804, 5840, 5912, 5972, 6068, 6140, 6296, 6392, 6500, 6632, 6728, 6800, 6908, 7016, 7256, 7304, 7352, 7400, 7748, 7876, 7924, 8104, 8140, 8524, 8572, 8644, 8908, 9016, 9076, 9112, 9460, 9508, 9640, 9796, 9856];
const s5941 = [68, 108, 196, 288, 348, 388, 460, 548, 608, 652, 868, 928, 968, 1120, 1204, 1444, 1500, 1612, 1668, 1728, 1788, 1936, 2176, 2228, 2276, 2380, 2452, 2500, 2552, 2632, 2672, 2724, 2792, 2844, 2892, 3060, 3132, 3240, 3444, 3516, 3604, 3664, 3768, 4152, 4248, 4356, 4416, 4476, 4544, 4604, 4716, 4776, 4836, 4896, 4992, 5104, 5180, 5360, 5480, 5612, 5728, 5876, 5984, 6092, 6172, 6284, 6452, 6512, 6572, 6632, 6700, 6760, 6820, 6932, 6992, 7064, 7160, 7220, 7352, 7508, 7568, 7628, 7760, 7796, 7888, 7960, 8104, 8164, 8224, 8284, 8344, 8476, 8536, 8608, 8704, 8764, 8824, 8884, 8908, 9000, 9172, 9256, 9388, 9448, 9496, 9556, 9616, 9676, 9736, 9844];
const s5940 = [16, 244, 460, 508, 592, 1096, 1492, 1588, 1672, 2128, 2308, 2380, 2416, 2568, 2652, 3048, 3096, 3552, 3912, 3960, 4008, 4164, 4200, 4404, 4536, 4596, 4668, 4812, 4980, 5124, 5140, 5180, 5252, 5336, 5576, 5708, 5924, 6044, 6140, 6200, 6260, 6320, 6416, 6584, 7148, 7220, 7364, 7652, 7700, 7760, 7796, 7960, 8016, 8308, 8392, 8428, 8668, 8752, 8884, 9064, 9172, 9256, 9448, 9820];
const s5939 = [28, 172, 664, 772, 988, 1144, 1228, 1324, 2020, 2236, 2488, 2504, 2568, 2604, 2796, 2844, 3276, 3336, 3384, 3456, 3516, 3804, 3852, 3972, 4032, 4080, 4260, 4308, 4344, 4440, 4488, 4704, 4860, 4920, 4992, 5052, 5112, 5140, 5396, 5516, 5612, 5696, 5828, 5888, 6200, 6260, 6320, 6356, 6536, 6680, 6740, 6788, 6860, 6920, 6980, 7112, 7160, 7220, 7292, 7412, 7496, 7700, 7760, 7776, 7816, 7876, 7936, 7984, 8116, 8224, 8284, 8440, 8584, 9100, 9340, 9496, 9808];
const s5938 = [952, 1240, 1588, 1816, 1888, 2056, 2176, 2224, 2356, 2760, 2808, 2856, 2916, 3324, 3756, 3828, 3936, 4284, 4392, 4608, 4656, 4812, 5016, 5228, 5264, 5480, 5540, 5696, 5936, 6224, 6296, 6764, 7088, 7160, 7208, 7316, 7484, 7580, 7748, 7776, 8452, 8740, 9100, 9184, 9460, 9628, 9772, 9796, 9860];
const s5937 = [124, 604, 844, 1072, 1120, 1384, 1432, 1480, 1612, 1660, 1828, 2428, 2488, 2524, 2736, 2892, 3312, 3384, 3432, 3504, 3636, 3792, 3852, 3912, 3972, 4008, 4092, 4332, 4464, 4512, 4740, 4788, 4944, 5100, 5216, 5408, 5588, 5924, 5972, 6056, 6188, 6392, 6452, 6764, 6860, 6980, 7100, 7124, 7196, 7352, 7460, 7496, 7628, 8068, 8140, 8440, 9196, 9400, 9496, 9664, 9712, 9748, 9856];
const s5936 = [112, 592, 2128, 2568, 2688, 2820, 3168, 3768, 4980, 5288, 5456, 5948, 6152, 6344, 6524, 6872, 6956, 7148, 7280, 7436, 7472, 8740, 9316, 9400, 9448, 9604];
const s5935 = [976, 1036, 1960, 2200, 2248, 4012, 4164, 4236, 4308, 4356, 4416, 4476, 4644, 4776, 5732, 6464, 7016, 7592, 8584, 9676, 9736];
const s5934 = [64, 352, 808, 1228, 1252, 2260, 3684, 3876, 3960, 4068, 4236, 4440, 4584, 4680, 4836, 5252, 6248, 6692, 7472, 7888, 8548, 9364];
const s5933 = [1036, 1692, 1716, 2952, 3360, 3576, 4572, 4872, 4920, 6032, 6944, 7448, 7700, 7888, 8068];
const s5932 = [6536, 7496, 9592];
const s5931 = [4620, 6164, 6236, 8248, 8680];
const s5930 = [5804, 7840];
const s5929 = [1540, 3732, 4764, 6200, 7448, 7664];
const s5928 = [4710];
const s5926 = [7052];
const s5924 = [8032];

const rows = [
  [5982, s5982], [5981, s5981], [5980, s5980], [5979, s5979], [5978, s5978], [5977, s5977],
  [5976, s5976], [5975, s5975], [5974, s5974], [5973, s5973], [5972, s5972], [5971, s5971],
  [5970, s5970], [5969, s5969], [5968, s5968], [5967, s5967], [5966, s5966], [5965, s5965],
  [5964, s5964], [5963, s5963], [5962, s5962], [5961, s5961], [5960, s5960], [5959, s5959],
  [5958, s5958], [5957, s5957], [5956, s5956], [5955, s5955], [5954, s5954], [5953, s5953],
  [5952, s5952], [5951, s5951], [5950, s5950], [5949, s5949], [5948, s5948], [5947, s5947],
  [5946, s5946], [5945, s5945], [5944, s5944], [5943, s5943], [5942, s5942], [5941, s5941],
  [5940, s5940], [5939, s5939], [5938, s5938], [5937, s5937], [5936, s5936], [5935, s5935],
  [5934, s5934], [5933, s5933], [5932, s5932], [5931, s5931], [5930, s5930], [5929, s5929],
  [5928, s5928], [5926, s5926], [5924, s5924],
];

const points = [];
rows.forEach(([level, samples]) => samples.forEach((x) => points.push({ x, y: level })));

const font = "'DejaVu Sans'";

const sampleLegend = {
  id: "sampleLegend",
  afterDatasetsDraw(chart) {
    const ctx = chart.ctx;
    const area = chart.chartArea;
    ctx.save();
    ctx.strokeStyle = "#000";
    ctx.lineWidth = 1;
    ctx.strokeRect(area.left + 0.5, area.top + 0.5, area.right - area.left, area.bottom - area.top);
    ctx.beginPath();
    ctx.roundRect(774.5, 42.5, 204, 45, 3);
    ctx.fillStyle = "rgba(255,255,255,0.8)";
    ctx.fill();
    ctx.strokeStyle = "#ccc";
    ctx.stroke();
    ctx.fillStyle = "#000";
    ctx.beginPath();
    ctx.arc(793.3, 65, 2.9, 0, Math.PI * 2);
    ctx.fill();
    ctx.textBaseline = "alphabetic";
    ctx.font = `13.9px ${font}`;
    ctx.fillText("Samples", 819, 59);
    let x = 818.5;
    [["μ", true], [" = 5953.86, ", false], ["σ", true], [" = 7.75", false]].forEach(([text, italic]) => {
      ctx.font = `${italic ? "italic " : ""}13.9px ${font}`;
      ctx.fillText(text, x, 75.5);
      x += ctx.measureText(text).width - 0.5;
    });
    ctx.restore();
  },
};

new Chart(document.getElementById("chart"), {
  type: "scatter",
  data: {
    datasets: [
      {
        label: "Samples",
        data: points,
        backgroundColor: "#000",
        borderWidth: 0,
        pointRadius: 2.9,
      },
    ],
  },
  plugins: [sampleLegend],
  options: {
    responsive: false,
    animation: false,
    layout: { padding: { right: 15 } },
    plugins: {
      legend: { display: false },
      tooltip: { enabled: false },
      title: {
        display: true,
        text: "Run 650, channel025, Pedestal",
        fullSize: false,
        color: "#000",
        font: { family: font, size: 16.67, weight: "normal", lineHeight: 1.2 },
        padding: { top: 13, bottom: 2 },
      },
    },
    scales: {
      x: {
        type: "linear",
        min: -480,
        max: 10350,
        afterBuildTicks: (scale) => (scale.ticks = xTicks.map((value) => ({ value }))),
        afterFit: (scale) => (scale.height = 59),
        ticks: { color: "#000", padding: 4, maxRotation: 0, font: { family: font, size: 13.9 }, callback: (v) => String(v) },
        grid: { color: "#b0b0b0", lineWidth: 1, tickColor: "#000", tickLength: 5 },
        border: { color: "#000" },
        title: { display: true, text: "Sample #", color: "#000", font: { family: font, size: 13.9 }, padding: { top: 0, bottom: 13 } },
      },
      y: {
        type: "linear",
        min: 5921.16,
        max: 5984.96,
        afterBuildTicks: (scale) => (scale.ticks = yTicks.map((value) => ({ value }))),
        afterFit: (scale) => (scale.width = 81),
        ticks: { color: "#000", padding: 3, font: { family: font, size: 13.9 }, callback: (v) => String(v) },
        grid: { color: "#b0b0b0", lineWidth: 1, tickColor: "#000", tickLength: 5 },
        border: { color: "#000" },
        title: { display: true, text: "ADC Counts", color: "#000", font: { family: font, size: 13.9 }, padding: { top: 13, bottom: 0 } },
      },
    },
  },
});
</script>
</body>
</html>
